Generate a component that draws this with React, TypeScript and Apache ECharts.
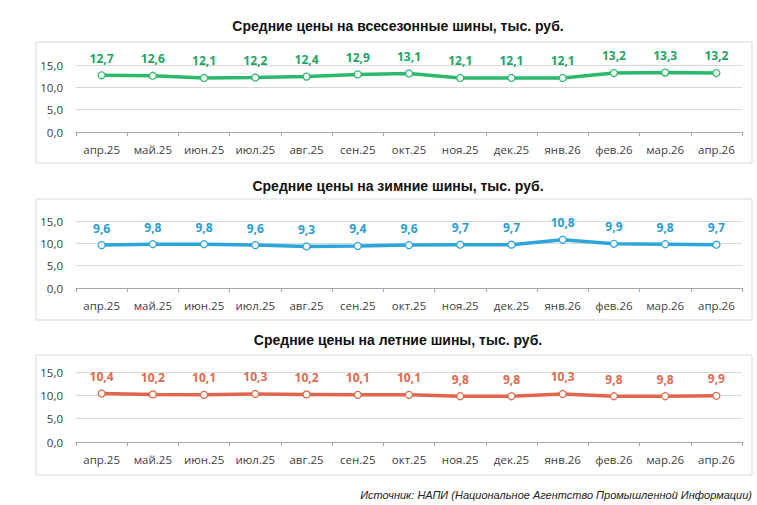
import React, { useEffect, useRef } from "react";
import * as echarts from "echarts";

const months = ["апр.25", "май.25", "июн.25", "июл.25", "авг.25", "сен.25", "окт.25", "ноя.25", "дек.25", "янв.26", "фев.26", "мар.26", "апр.26"];
const allSeason = [12.7, 12.6, 12.1, 12.2, 12.4, 12.9, 13.1, 12.1, 12.1, 12.1, 13.2, 13.3, 13.2];
const winter = [9.6, 9.8, 9.8, 9.6, 9.3, 9.4, 9.6, 9.7, 9.7, 10.8, 9.9, 9.8, 9.7];
const summer = [10.4, 10.2, 10.1, 10.3, 10.2, 10.1, 10.1, 9.8, 9.8, 10.3, 9.8, 9.8, 9.9];
const titles = [
  "Средние цены на всесезонные шины, тыс. руб.",
  "Средние цены на зимние шины, тыс. руб.",
  "Средние цены на летние шины, тыс. руб.",
];
const source = "Источник: НАПИ (Национальное Агентство Промышленной Информации)";

const fmt = (v: number) => v.toFixed(1).replace(".", ",");

export default function App() {
  const ref = useRef<HTMLDivElement>(null);
  useEffect(() => {
    document.body.style.margin = "0";
    const chart = echarts.init(ref.current!, null, { renderer: "svg" });
    const panels = [
      { data: allSeason, line: "#2bb86c", label: "#22a463", titleY: 23, box: [36, 42, 716, 121], top: 65, h: 67 },
      { data: winter, line: "#2ea5d8", label: "#259ed3", titleY: 183, box: [36, 199, 716, 121], top: 221, h: 67 },
      { data: summer, line: "#e0674c", label: "#de6a4f", titleY: 337, box: [36, 355, 716, 120], top: 372, h: 70 },
    ];
    const tickFont = { fontFamily: "Open Sans", fontSize: 11.5, color: "#404040" };
    chart.setOption({
      animation: false,
      backgroundColor: "#fff",
      title: panels.map((p, i) => ({
        text: titles[i],
        left: 393,
        top: p.titleY - 9,
        textAlign: "center",
        textStyle: { fontFamily: "Liberation Sans", fontSize: 14, fontWeight: "bold", color: "#111" },
      })),
      graphic: [
        ...panels.map((p) => ({
          type: "rect",
          shape: { x: p.box[0], y: p.box[1], width: p.box[2], height: p.box[3] },
          style: { fill: "none", stroke: "#d9d9d9", lineWidth: 1 },
          z: -1,
        })),
        {
          type: "text",
          right: 5,
          top: 489,
          style: { text: source, font: "italic 11px 'Liberation Sans'", fill: "#222" },
        },
      ],
      grid: panels.map((p) => ({ left: 76, width: 666, top: p.top, height: p.h })),
      xAxis: panels.map((p, i) => ({
        type: "category",
        gridIndex: i,
        data: months,
        boundaryGap: true,
        axisLine: { lineStyle: { color: "#a6a6a6" } },
        axisTick: { show: true, length: 4, lineStyle: { color: "#a6a6a6" } },
        axisLabel: { ...tickFont, margin: 11, interval: 0 },
      })),
      yAxis: panels.map((p, i) => ({
        type: "value",
        gridIndex: i,
        min: 0,
        max: 15,
        interval: 5,
        axisLine: { show: false },
        axisTick: { show: false },
        splitLine: { lineStyle: { color: "#d9d9d9" } },
        axisLabel: { ...tickFont, margin: 13, formatter: (v: number) => fmt(v) },
      })),
      series: panels.map((p, i) => ({
        type: "line",
        xAxisIndex: i,
        yAxisIndex: i,
        data: p.data,
        symbol: "circle",
        symbolSize: 7,
        lineStyle: { color: p.line, width: 3.5 },
        itemStyle: { color: "#f2fbf6", borderColor: p.line, borderWidth: 1.2 },
        label: {
          show: true,
          position: "top",
          distance: 7,
          formatter: (d: any) => fmt(d.value),
          fontFamily: "Open Sans",
          fontSize: 12,
          fontWeight: "bold",
          color: p.label,
        },
      })),
    });
    return () => chart.dispose();
  }, []);
  return <div ref={ref} style={{ width: 757, height: 505 }} />;
}
